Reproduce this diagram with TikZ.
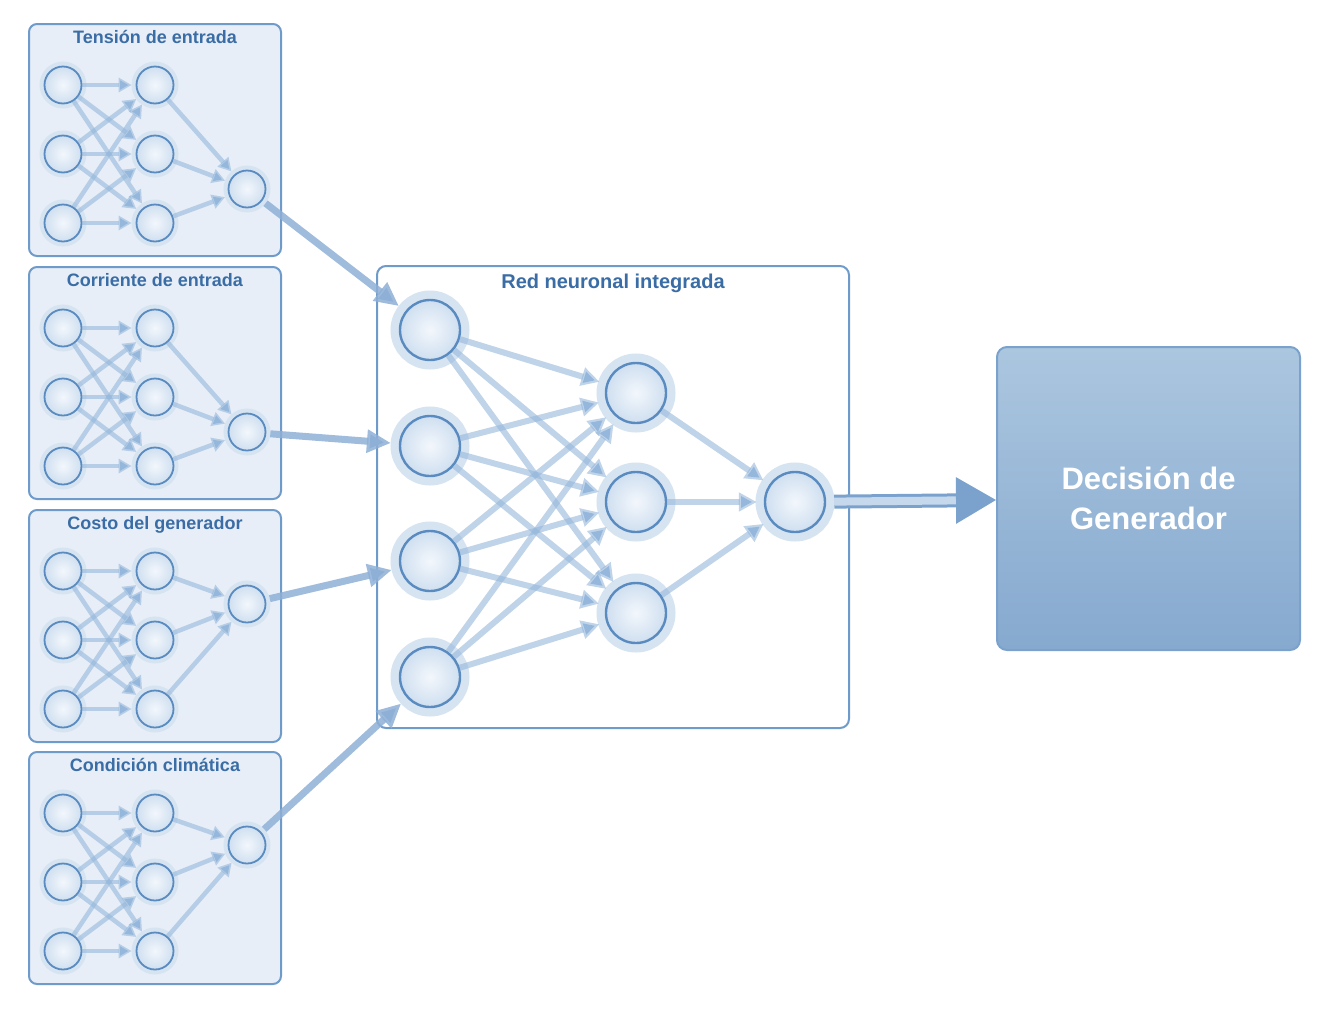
\documentclass[tikz,border=0pt]{standalone}
\usepackage{fontspec}
\setmainfont{Liberation Sans}
\usepackage{tikz}
\usetikzlibrary{arrows.meta,positioning}

\definecolor{panelfill}{HTML}{E7EEF7}
\definecolor{panelline}{HTML}{6F9BCA}
\definecolor{titleblue}{HTML}{3A6DA5}
\definecolor{nodeline}{HTML}{5A8BC0}
\definecolor{nodecore}{HTML}{F3F7FC}
\definecolor{nodefill}{HTML}{CFDFF0}
\definecolor{halo}{HTML}{D6E4F2}
\definecolor{edgeblue}{HTML}{95B7DB}
\definecolor{feedblue}{HTML}{8EB0D6}
\definecolor{outblue}{HTML}{7BA2CC}
\definecolor{outfill}{HTML}{C6D8EC}
\definecolor{dectop}{HTML}{ABC6DF}
\definecolor{decbottom}{HTML}{86A9CF}

\begin{document}
\begin{tikzpicture}[
  x=1pt,y=-1pt,
  panel/.style={draw=panelline,line width=2pt,rounded corners=8pt,fill=panelfill,
    minimum width=252pt,minimum height=232pt},
  bigpanel/.style={draw=panelline,line width=2pt,rounded corners=9pt,fill=white,
    minimum width=472pt,minimum height=462pt},
  paneltitle/.style={font=\bfseries\fontsize{18}{20}\selectfont,text=titleblue},
  neuron/.style={circle,draw=nodeline,line width=1.8pt,inner color=nodecore,outer color=nodefill,
    minimum size=37pt,preaction={draw=halo,line width=10pt}},
  bigneuron/.style={circle,draw=nodeline,line width=2.4pt,inner color=nodecore,outer color=nodefill,
    minimum size=60pt,preaction={draw=halo,line width=19pt}},
  link/.style={draw=edgeblue,draw opacity=.6,line width=4.5pt,
    -{Triangle[length=13pt,width=14pt]},shorten >=4pt},
  biglink/.style={draw=edgeblue,draw opacity=.6,line width=6pt,
    -{Triangle[length=18pt,width=18pt]},shorten >=7pt},
  feed/.style={draw=feedblue,draw opacity=.85,line width=7pt,
    -{Triangle[length=24pt,width=22pt]},shorten >=8pt,shorten <=4pt},
  outarrow/.style={draw=outblue,line width=3pt,double=outfill,double distance=8pt,
    -{Triangle[length=40pt,width=46pt]},shorten <=8pt},
  decision/.style={draw=outblue,line width=2pt,rounded corners=10pt,
    top color=dectop,bottom color=decbottom,text=white,align=center,
    font=\bfseries\fontsize{31}{40}\selectfont,minimum width=303pt,minimum height=303pt}
]
\useasboundingbox (0,0) rectangle (1325,1010);

% four input networks
\foreach \pn/\yy/\oy/\ttl in {1/24/165/Tensión de entrada,2/267/165/Corriente de entrada,
    3/510/94/Costo del generador,4/752/93/Condición climática}{
  \node[panel] (box\pn) at (155,\yy+116) {};
  \node[paneltitle,below=4pt of box\pn.north] (ttl\pn) {\ttl};
  \foreach \row/\dy in {1/61,2/130,3/199}{
    \node[neuron] (s\pn-i\row) at (63,\yy+\dy) {};
    \node[neuron] (s\pn-h\row) at (155,\yy+\dy) {};
  }
  \node[neuron] (s\pn-o) at (247,\yy+\oy) {};
  \foreach \ii in {1,2,3}{
    \foreach \jj in {1,2,3} \draw[link] (s\pn-i\ii) -- (s\pn-h\jj);
    \draw[link] (s\pn-h\ii) -- (s\pn-o);
  }
}

% integrated network
\node[bigpanel] (net) at (613,497) {};
\node[paneltitle,font=\bfseries\fontsize{20}{22}\selectfont,below=5pt of net.north] (nettl) {Red neuronal integrada};
\foreach \row/\y in {1/330,2/446,3/561,4/677} \node[bigneuron] (in\row) at (430,\y) {};
\foreach \row/\y in {1/393,2/502,3/613} \node[bigneuron] (hid\row) at (636,\y) {};
\node[bigneuron] (out) at (795,502) {};
\foreach \ii in {1,2,3,4}
  \foreach \jj in {1,2,3} \draw[biglink] (in\ii) -- (hid\jj);
\foreach \jj in {1,2,3} \draw[biglink] (hid\jj) -- (out);

\foreach \pn in {1,2,3,4} \draw[feed] (s\pn-o) -- (in\pn);

\node[decision] (dec) at (1148.5,498.5) {Decisión de\\Generador};
\draw[outarrow] (out) -- (dec);
\end{tikzpicture}
\end{document}
